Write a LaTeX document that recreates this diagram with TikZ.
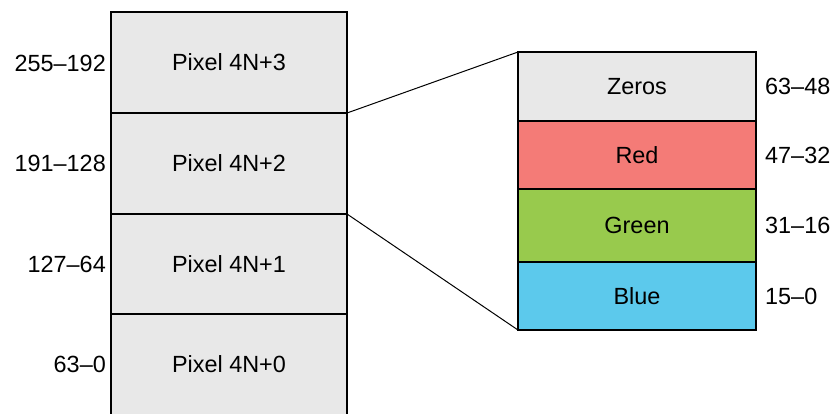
\documentclass[tikz,border=0pt]{standalone}
\usepackage{fontspec}
\setmainfont{Liberation Sans}
\definecolor{cgray}{HTML}{E8E8E8}
\definecolor{cred}{HTML}{F47B77}
\definecolor{cgreen}{HTML}{98CA4D}
\definecolor{cblue}{HTML}{5CC9EC}
\begin{document}
\begin{tikzpicture}[x=1bp,y=-1bp,
  cell/.style={draw=black,line width=2bp,inner sep=0pt,outer sep=0pt,font=\fontsize{23.5}{28}\selectfont},
  pix/.style={cell,fill=cgray,minimum width=236bp,minimum height=101bp},
  fld/.style={cell,minimum width=238bp,minimum height=68.5bp},
  lbl/.style={font=\fontsize{23.5}{28}\selectfont,inner sep=0pt},
  conn/.style={draw=black,line width=1bp}]
\useasboundingbox (0,0) rectangle (839,413);
% left column
\node[pix,anchor=north west] (p3) at (111,12) {Pixel 4N+3};
\node[pix,anchor=north west] (p2) at (111,113) {Pixel 4N+2};
\node[pix,anchor=north west] (p1) at (111,213.5) {Pixel 4N+1};
\fill[cgray] (111,314) rectangle (347,420);
\node[lbl] (p0) at (229,364) {Pixel 4N+0};
\draw[line width=2bp] (111,420) -- (111,314) -- (347,314) -- (347,420);
% left labels
\node[lbl,anchor=east] (l3) at (106,63) {255–192};
\node[lbl,anchor=east] (l2) at (106,163.5) {191–128};
\node[lbl,anchor=east] (l1) at (106,264.5) {127–64};
\node[lbl,anchor=east] (l0) at (106,364.5) {63–0};
% right column
\node[fld,fill=cgray,anchor=north west] (z) at (518,52) {Zeros};
\node[fld,fill=cred,anchor=north west] (r) at (518,120.5) {Red};
\node[fld,fill=cgreen,anchor=north west,minimum height=72.5bp] (g) at (518,189) {Green};
\node[fld,fill=cblue,anchor=north west] (b) at (518,261.5) {Blue};
% right labels
\node[lbl,anchor=west] (rz) at (765,86.5) {63–48};
\node[lbl,anchor=west] (rr) at (765,155) {47–32};
\node[lbl,anchor=west] (rg) at (765,225) {31–16};
\node[lbl,anchor=west] (rb) at (765,296) {15–0};
% connectors
\draw[conn] (p3.south east) -- (z.north west);
\draw[conn] (p2.south east) -- (b.south west);
\end{tikzpicture}
\end{document}
